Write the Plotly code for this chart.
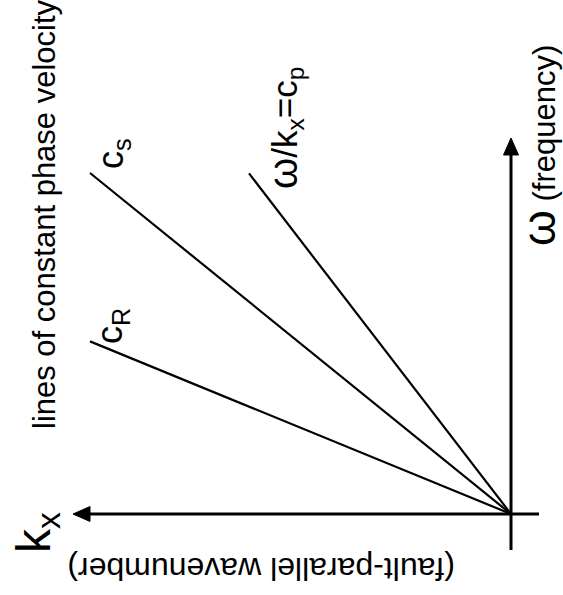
import plotly.graph_objects as go

# Rays of constant phase velocity omega / k_x in the (k_x, omega) plane
ray_labels = ["c<sub>p</sub>", "c<sub>s</sub>", "c<sub>R</sub>"]
phase_velocity = [1.30, 0.81, 0.41]   # slope omega / k_x of each ray
ray_k_end = [262, 421, 421]           # k_x where each ray stops

# Axis extents (same units on both axes)
k_axis = [-28, 438]      # fault-parallel wavenumber axis (points left)
w_axis = [-36, 376]      # frequency axis (points up)
k_view = [511, -52]      # reversed so k_x grows to the left
w_view = [-81, 514]

FONT = "Liberation Sans, Arial, Helvetica, sans-serif"
INK = "black"

fig = go.Figure()

for c, k_end in zip(phase_velocity, ray_k_end):
    fig.add_trace(go.Scatter(
        x=[0, k_end], y=[0, c * k_end], mode="lines",
        line=dict(color=INK, width=2.2), hoverinfo="skip", showlegend=False,
    ))

# Coordinate axes with filled arrow heads
head_len, head_half = 17, 7.5
shapes = [
    dict(type="line", xref="x", yref="y", x0=k_axis[0], y0=0,
         x1=k_axis[1] - head_len + 1, y1=0, line=dict(color=INK, width=3)),
    dict(type="path", xref="x", yref="y",
         path=(f"M{k_axis[1]},0 L{k_axis[1] - head_len},{head_half} "
               f"L{k_axis[1] - head_len},{-head_half} Z"),
         fillcolor=INK, line=dict(color=INK, width=1)),
    dict(type="line", xref="x", yref="y", x0=0, y0=w_axis[0],
         x1=0, y1=w_axis[1] - head_len + 1, line=dict(color=INK, width=3)),
    dict(type="path", xref="x", yref="y",
         path=(f"M0,{w_axis[1]} L{head_half},{w_axis[1] - head_len} "
               f"L{-head_half},{w_axis[1] - head_len} Z"),
         fillcolor=INK, line=dict(color=INK, width=1)),
]

def label(text, k, w, size, angle=-90):
    return dict(text=text, x=k, y=w, xref="x", yref="y", showarrow=False,
                textangle=angle, xanchor="center", yanchor="middle",
                font=dict(family=FONT, size=size, color=INK))

def big_omega(px):
    return f'<span style="font-size:{px}px">ω</span>'

annotations = [
    label("lines of constant phase velocity", 467, 300, 31),
    label(big_omega(40) + "/k<sub>x</sub>=" + ray_labels[0], 226, 386, 35),
    label(ray_labels[1], 398, 360, 36),
    label(ray_labels[2], 399, 188, 36),
    label(big_omega(46) + " (frequency)", -28, 368, 31),
    label("k<sub>x</sub>", 474, -19, 48),
    label("(fault-parallel wavenumber)", 250, -55, 32, angle=180),
]

fig.update_layout(
    width=563, height=595,
    margin=dict(l=0, r=0, t=0, b=0),
    paper_bgcolor="white", plot_bgcolor="white",
    xaxis=dict(range=k_view, visible=False, fixedrange=True),
    yaxis=dict(range=w_view, visible=False, fixedrange=True),
    shapes=shapes, annotations=annotations,
)

fig.write_html("out.html")
